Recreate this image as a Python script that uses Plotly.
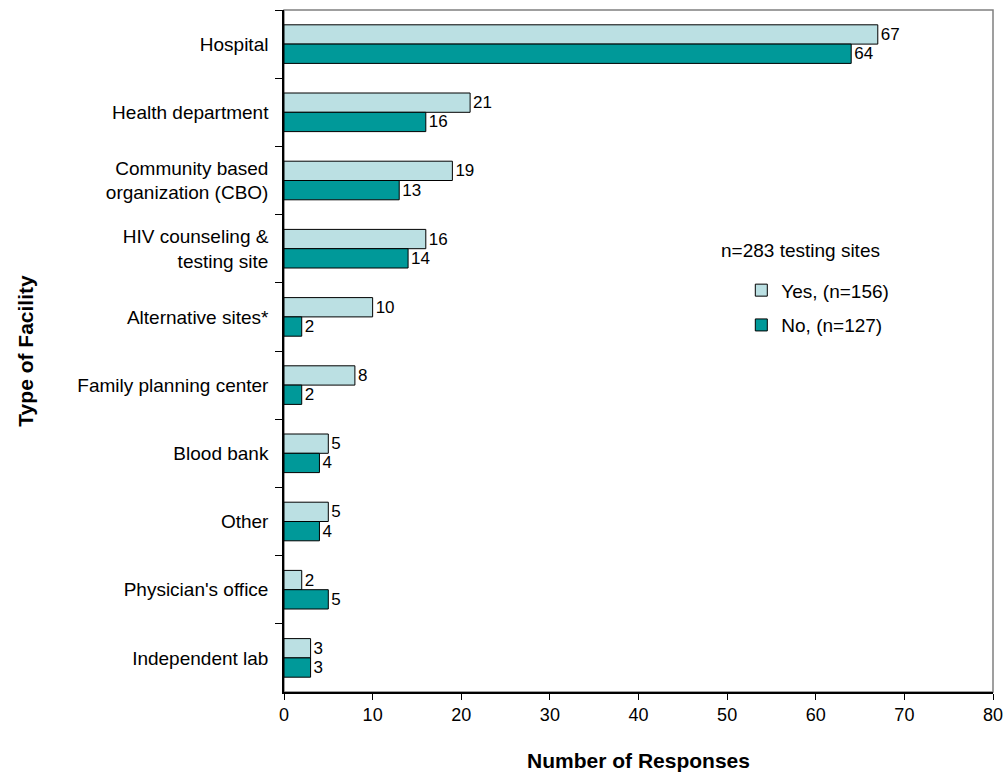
import plotly.graph_objects as go

categories = ["Hospital", "Health department", "Community based<br>organization (CBO)",
              "HIV counseling &<br>testing site", "Alternative sites*", "Family planning center",
              "Blood bank", "Other", "Physician's office", "Independent lab"]
yes_values = [67, 21, 19, 16, 10, 8, 5, 5, 2, 3]
no_values = [64, 16, 13, 14, 2, 2, 4, 4, 5, 3]
x_ticks = [0, 10, 20, 30, 40, 50, 60, 70, 80]

FONT = "Arial, Liberation Sans, sans-serif"

fig = go.Figure()
fig.add_trace(go.Bar(
    y=categories, x=yes_values, orientation="h", name="Yes, (n=156)",
    marker=dict(color="#BBE0E3", line=dict(color="#000000", width=1)),
    text=yes_values, textposition="outside", constraintext="none", cliponaxis=False,
    textfont=dict(family=FONT, size=17, color="#000000"), legend="legend",
))
fig.add_trace(go.Bar(
    y=categories, x=no_values, orientation="h", name="No, (n=127)",
    marker=dict(color="#009999", line=dict(color="#000000", width=1)),
    text=no_values, textposition="outside", constraintext="none", cliponaxis=False,
    textfont=dict(family=FONT, size=17, color="#000000"), legend="legend2",
))

fig.update_layout(
    width=1007, height=774,
    margin=dict(l=284, r=14, t=10, b=82),
    paper_bgcolor="white", plot_bgcolor="white",
    font=dict(family=FONT, size=18, color="#000000"),
    barmode="group", bargap=0.434, bargroupgap=0,
    showlegend=True,
    legend=dict(x=0.645, y=0.589, xanchor="left", yanchor="middle",
                bgcolor="rgba(0,0,0,0)", font=dict(family=FONT, size=19)),
    legend2=dict(x=0.645, y=0.538, xanchor="left", yanchor="middle",
                 bgcolor="rgba(0,0,0,0)", font=dict(family=FONT, size=19)),
    xaxis=dict(range=[0, 80], tickvals=x_ticks, ticks="outside", ticklen=6,
               tickcolor="#000000", showline=True, linecolor="#000000", linewidth=1.5,
               showgrid=False, zeroline=False, tickfont=dict(size=18), automargin=False,
               title=dict(text="<b>Number of Responses</b>", font=dict(size=21), standoff=29)),
    yaxis=dict(autorange="reversed", categoryorder="array", categoryarray=categories,
               ticks="outside", ticklen=7, tickson="boundaries", tickcolor="#000000",
               showline=True, linecolor="#000000", linewidth=1.5, showgrid=False,
               tickfont=dict(size=19), ticklabelstandoff=10, automargin=False,
               title=dict(text="<b>Type of Facility</b>", font=dict(size=21), standoff=38)),
    shapes=[dict(type="rect", xref="paper", yref="paper", x0=0, x1=1, y0=0, y1=1,
                 line=dict(color="#808080", width=1.5), layer="below")],
    annotations=[dict(text="n=283 testing sites", xref="paper", yref="paper",
                      x=0.729, y=0.648, xanchor="center", yanchor="middle", showarrow=False,
                      font=dict(family=FONT, size=19))],
)

fig.write_html("out.html", config={"displayModeBar": False},
               post_script="document.body.style.margin='0';")
